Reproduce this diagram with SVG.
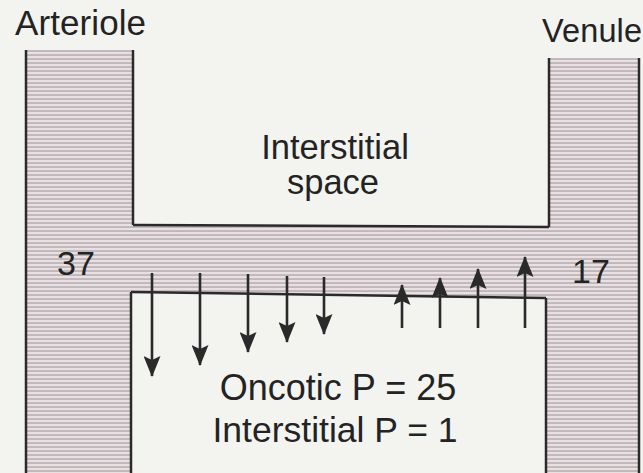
<svg xmlns="http://www.w3.org/2000/svg" width="643" height="473" viewBox="0 0 643 473">
  <defs>
    <pattern id="stripes" patternUnits="userSpaceOnUse" width="8" height="4">
      <rect width="8" height="4" fill="#eadfe1"/>
      <rect y="2.2" width="8" height="1.7" fill="#b9b4b9"/>
    </pattern>
    <marker id="head" markerUnits="userSpaceOnUse" markerWidth="21" markerHeight="17" refX="20" refY="8.5" orient="auto" viewBox="0 0 21 17">
      <path d="M0,0 L21,8.5 L0,17 L4,8.5 Z" fill="#2a2a2a"/>
    </marker>
    <style>
      .wall { fill: none; stroke: #2a2a2a; stroke-width: 2.5; stroke-linejoin: miter; }
      .lbl { font-family: "Liberation Sans", Arial, sans-serif; fill: #232323; }
      .arr { stroke: #2a2a2a; stroke-width: 2.6; fill: none; marker-end: url(#head); }
    </style>
  </defs>
  <rect width="643" height="473" fill="#f3f3f0"/>

  <g id="vessel">
    <path d="M26,50 L133,50 L133,225 L549,227 L549,58 L639,58 L639,473 L546,473 L546,298 L131,292 L131,473 L26,473 Z" fill="url(#stripes)"/>
  </g>

  <g id="arteriole">
    <path class="wall" d="M26,50 L26,473"/>
    <path class="wall" d="M133,50 L133,225"/>
    <text class="lbl" x="15" y="35" font-size="35" textLength="131">Arteriole</text>
    <text class="lbl" x="57" y="275" font-size="34">37</text>
  </g>

  <g id="capillary">
    <path class="wall" d="M133,225 L549,227"/>
    <path class="wall" d="M131,292 L546,298"/>
  </g>

  <g id="venule">
    <path class="wall" d="M549,227 L549,58"/>
    <path class="wall" d="M639,58 L639,473"/>
    <text class="lbl" x="542" y="42" font-size="32.5" textLength="100">Venule</text>
    <text class="lbl" x="572" y="283" font-size="34">17</text>
  </g>

  <g id="interstitial-space">
    <text class="lbl" x="335" y="159" font-size="34.5" text-anchor="middle">Interstitial</text>
    <text class="lbl" x="333" y="194" font-size="34.5" text-anchor="middle">space</text>
  </g>

  <g id="interstitium">
    <path class="wall" d="M131,473 L131,292"/>
    <path class="wall" d="M546,298 L546,473"/>
    <text class="lbl" x="338" y="400" font-size="36" text-anchor="middle">Oncotic P = 25</text>
    <text class="lbl" x="335" y="442" font-size="35.5" text-anchor="middle">Interstitial P = 1</text>
  </g>

  <g id="connectors">
    <line class="arr" x1="152" y1="273" x2="152" y2="376"/>
    <line class="arr" x1="200" y1="273" x2="200" y2="365"/>
    <line class="arr" x1="248" y1="274" x2="248" y2="352"/>
    <line class="arr" x1="287" y1="276" x2="287" y2="342"/>
    <line class="arr" x1="324" y1="277" x2="324" y2="334"/>
    <line class="arr" x1="402" y1="328" x2="402" y2="285"/>
    <line class="arr" x1="440" y1="328" x2="440" y2="278"/>
    <line class="arr" x1="478" y1="328" x2="478" y2="269"/>
    <line class="arr" x1="525" y1="328" x2="525" y2="257"/>
  </g>
</svg>
